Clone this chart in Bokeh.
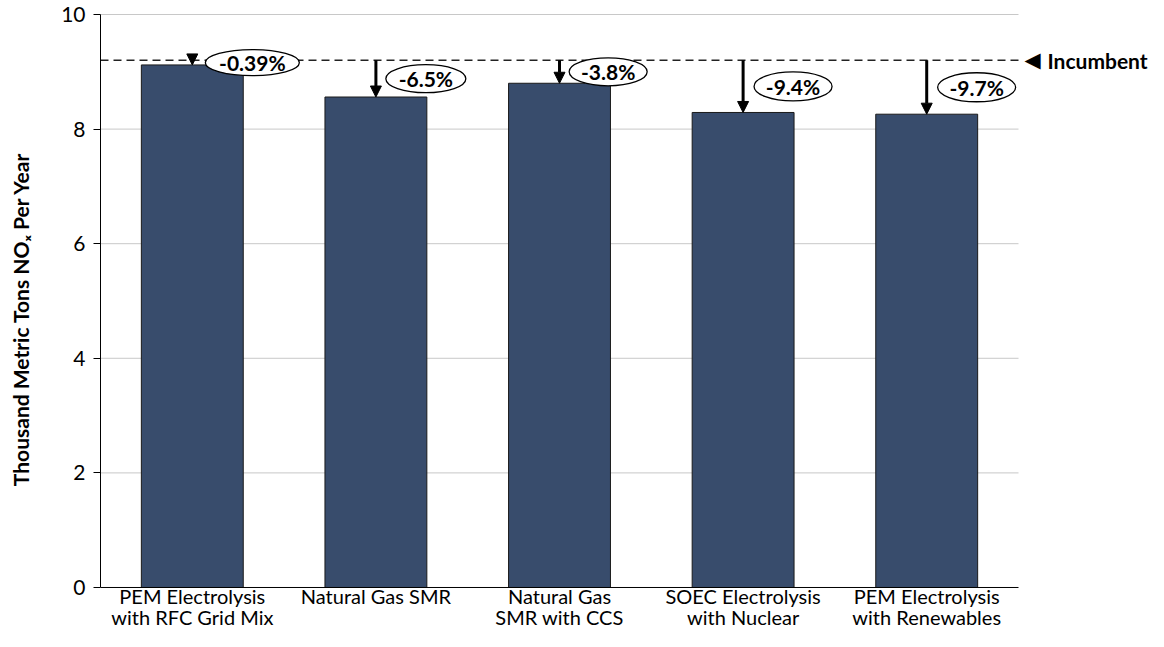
from bokeh.plotting import figure
from bokeh.models import Range1d, FixedTicker, Arrow, NormalHead, ColumnDataSource
from bokeh.core.properties import value
from bokeh.embed import file_html
from bokeh.resources import INLINE

# ---- data ----
categories = ["PEM Electrolysis\nwith RFC Grid Mix", "Natural Gas SMR",
              "Natural Gas\nSMR with CCS", "SOEC Electrolysis\nwith Nuclear",
              "PEM Electrolysis\nwith Renewables"]
nox_values = [9.12, 8.56, 8.80, 8.29, 8.26]
incumbent = 9.20
pct_labels = ["-0.39%", "-6.5%", "-3.8%", "-9.4%", "-9.7%"]
y_ticks = [0, 2, 4, 6, 8, 10]
y_title = "Thousand Metric Tons NOₓ Per Year"
incumbent_label = "Incumbent"

# ---- styles ----
FONT = "Lato"
BAR_COLOR = "#384C6C"
GRID_COLOR = "#C8C8C8"
label_dx = [0.327, 0.272, 0.265, 0.272, 0.272]
ellipse_w = [94, 80, 78, 78, 78]
ellipse_h = [26, 28, 28, 29, 29]

xs = list(range(len(categories)))
x_lo, x_hi = -0.5, len(categories) - 0.5

p = figure(width=1148, height=631, output_backend="svg", toolbar_location=None,
           x_range=Range1d(-0.5, 5.208), y_range=Range1d(-0.768, 10.1396),
           x_axis_location=None,
           min_border_left=100, min_border_right=0, min_border_top=6, min_border_bottom=0)
p.outline_line_color = None
p.background_fill_color = "white"
p.border_fill_color = "white"
p.xgrid.grid_line_color = None
p.ygrid.grid_line_color = None

# y axis
p.yaxis.bounds = (y_ticks[0], y_ticks[-1])
p.yaxis.ticker = FixedTicker(ticks=y_ticks)
p.yaxis.minor_tick_line_color = None
p.yaxis.major_tick_out = 7
p.yaxis.major_tick_in = 0
p.yaxis.axis_line_color = "#000000"
p.yaxis.major_tick_line_color = "#000000"
p.yaxis.major_label_text_font = FONT
p.yaxis.major_label_text_font_size = "21px"
p.yaxis.major_label_text_color = "#000000"
p.yaxis.major_label_standoff = 8
p.yaxis.axis_label = y_title
p.yaxis.axis_label_text_font = FONT
p.yaxis.axis_label_text_font_style = "bold"
p.yaxis.axis_label_text_font_size = "21px"
p.yaxis.axis_label_text_color = "#000000"
p.yaxis.axis_label_standoff = 25

# horizontal gridlines (limited to the category area)
grid_ys = y_ticks[1:]
p.segment(x0=[x_lo] * len(grid_ys), x1=[x_hi] * len(grid_ys), y0=grid_ys, y1=grid_ys,
          line_color=GRID_COLOR, line_width=1)

# bars
p.vbar(x=xs, top=nox_values, bottom=0, width=0.555, fill_color=BAR_COLOR,
       line_color="#1A1A1A", line_width=1)

# baseline (x axis line)
p.segment(x0=[x_lo], x1=[x_hi], y0=[0], y1=[0], line_color="#000000", line_width=1)

# category labels (two lines)
line1 = [c.split("\n")[0] for c in categories]
line2 = [c.split("\n")[1] if "\n" in c else "" for c in categories]
p.text(x=xs, y=[0] * len(xs), text=line1, y_offset=9, text_font=value(FONT),
       text_font_size="20px", text_align="center", text_baseline="alphabetic",
       text_color="#000000")
p.text(x=xs, y=[0] * len(xs), text=line2, y_offset=30, text_font=value(FONT),
       text_font_size="20px", text_align="center", text_baseline="alphabetic",
       text_color="#000000")

# incumbent dashed line
p.line(x=[x_lo, x_hi], y=[incumbent, incumbent], line_color="#222222",
       line_width=1.5, line_dash="8 5")

# arrows
for x, v in zip(xs, nox_values):
    p.add_layout(Arrow(end=NormalHead(size=11, fill_color="black", line_color="black"),
                       x_start=x, y_start=incumbent, x_end=x, y_end=v,
                       line_width=3, line_color="black"))

# ellipse labels
src = ColumnDataSource(dict(
    x=[x + d for x, d in zip(xs, label_dx)],
    y=[(incumbent + v) / 2 for v in nox_values],
    w=ellipse_w, h=ellipse_h, t=pct_labels))
p.ellipse(x="x", y="y", width="w", height="h", width_units="screen", height_units="screen",
          source=src, fill_color="white", line_color="black", line_width=1.3)
p.text(x="x", y="y", text="t", source=src, text_font=value(FONT), text_font_style="bold",
       text_font_size="21px", text_align="center", text_baseline="middle", text_color="black")

# incumbent marker
p.text(x=[x_hi], y=[incumbent], text=["◀"], x_offset=6, text_font=value("DejaVu Sans"),
       text_font_size="21px", text_align="left", text_baseline="middle", text_color="black")
p.text(x=[x_hi], y=[incumbent], text=[incumbent_label], x_offset=29, text_font=value(FONT),
       text_font_style="bold", text_font_size="21px", text_align="left",
       text_baseline="middle", text_color="black")

open("out.html", "w").write(file_html(p, INLINE))
